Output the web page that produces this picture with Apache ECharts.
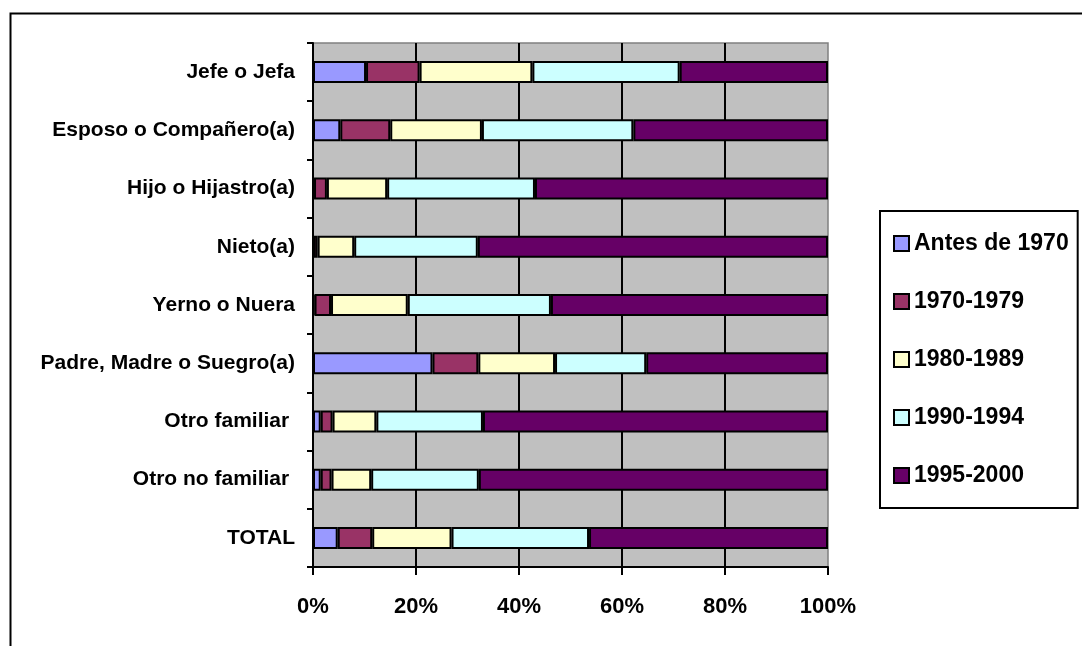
<!DOCTYPE html>
<html>
<head>
<meta charset="utf-8">
<script src="https://cdn.jsdelivr.net/npm/echarts@6/dist/echarts.min.js"></script>
<style>
html,body{margin:0;padding:0;background:#fff;}
#c{width:1082px;height:646px;}
</style>
</head>
<body>
<div id="c"></div>
<script>
var categories = ['Jefe o Jefa','Esposo o Compañero(a)','Hijo o Hijastro(a)','Nieto(a)','Yerno o Nuera','Padre, Madre o Suegro(a)','Otro familiar ','Otro no familiar ','TOTAL'];
var seriesNames = ['Antes de 1970','1970-1979','1980-1989','1990-1994','1995-2000'];
var antes1970 = [10.3, 5.3, 0.2, 0.1, 0.3, 23.2, 1.5, 1.5, 4.8];
var s1970_1979 = [10.4, 9.7, 2.5, 0.8, 3.2, 8.9, 2.3, 2.1, 6.7];
var s1980_1989 = [21.9, 17.8, 11.7, 7.1, 14.9, 14.9, 8.5, 7.7, 15.4];
var s1990_1994 = [28.6, 29.4, 28.7, 24.0, 27.8, 17.7, 20.7, 20.9, 26.7];
var s1995_2000 = [28.8, 37.8, 56.9, 68.0, 53.8, 35.3, 67.0, 67.8, 46.4];
var xTicks = [0, 20, 40, 60, 80, 100];

var colors = ['#9999FF','#993366','#FFFFCC','#CCFFFF','#660066'];
var values = [antes1970, s1970_1979, s1980_1989, s1990_1994, s1995_2000];
var FONT = "'Liberation Sans', Arial, sans-serif";

var chart = echarts.init(document.getElementById('c'));
var series = seriesNames.map(function(n, i){
  return {
    name: n, type: 'bar', stack: 'total', barWidth: 22,
    data: values[i],
    itemStyle: {color: colors[i], borderColor: '#000', borderWidth: 2},
    emphasis: {disabled: true}
  };
});
chart.setOption({
  backgroundColor: '#fff',
  animation: false,
  graphic: [{
    type: 'rect', z: -10, silent: true,
    shape: {x: 10.5, y: 13.5, width: 1200, height: 800},
    style: {fill: 'none', stroke: '#000', lineWidth: 2}
  }],
  grid: {
    left: 313, right: 254, top: 43, bottom: 79,
    show: true, backgroundColor: '#C0C0C0', borderColor: '#808080', borderWidth: 1.5
  },
  legend: {
    orient: 'vertical', left: 880, top: 211,
    padding: [21, 9, 21, 13],
    itemGap: 35, itemWidth: 15, itemHeight: 15, icon: 'rect',
    borderColor: '#000', borderWidth: 2, backgroundColor: '#fff',
    data: seriesNames,
    textStyle: {fontFamily: FONT, fontWeight: 'bold', fontSize: 23, lineHeight: 23, color: '#000'}
  },
  xAxis: {
    type: 'value', min: 0, max: 100, interval: 20,
    axisLine: {show: true, lineStyle: {color: '#000', width: 2}},
    axisTick: {show: true, length: 8, lineStyle: {color: '#000', width: 2}},
    axisLabel: {
      margin: 29, fontFamily: FONT, fontWeight: 'bold', fontSize: 22, color: '#000',
      formatter: function(v){ return xTicks.indexOf(v) >= 0 ? v + '%' : ''; }
    },
    splitLine: {show: true, showMinLine: false, showMaxLine: false, lineStyle: {color: '#000', width: 2}}
  },
  yAxis: {
    type: 'category', inverse: true, data: categories,
    axisLine: {show: true, lineStyle: {color: '#000', width: 2}},
    axisTick: {show: true, length: 6, lineStyle: {color: '#000', width: 2}},
    axisLabel: {margin: 18, fontFamily: FONT, fontWeight: 'bold', fontSize: 21, color: '#000'},
    splitLine: {show: false}
  },
  series: series
});
</script>
</body>
</html>
